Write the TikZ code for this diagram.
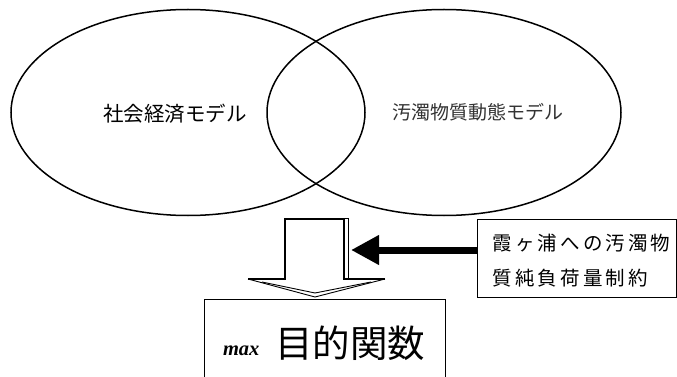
\documentclass[tikz,border=0pt]{standalone}
\usepackage{fontspec}
\setmainfont{Liberation Serif}
\newfontfamily\cjk{Noto Sans CJK JP}
\newfontfamily\cjksp[LetterSpace=16]{Noto Sans CJK JP}
\usetikzlibrary{shapes.geometric,arrows.meta}
\begin{document}
\begin{tikzpicture}[x=1pt,y=-1pt,
  venn/.style={draw, ellipse, line width=1.5pt, minimum width=354pt, minimum height=206pt, inner sep=0pt},
  boxed/.style={draw, rectangle, line width=1pt, inner sep=0pt},
  thickedge/.style={line width=2.4pt, line join=miter},
  thinedge/.style={line width=0.9pt, line join=miter}]
\fill[white] (0,0) rectangle (677,377);
\useasboundingbox (0,0) rectangle (677,377);
\clip (0,0) rectangle (677,377);
% ellipses
\node[venn] (socio) at (188,112.5) {};
\node[venn] (pollut) at (444,112.5) {};
\node[font=\cjk\fontsize{20.5}{24}\selectfont] (t1) at (175,114) {社会経済モデル};
\node[font=\cjk\fontsize{19}{23}\selectfont, text=black!80] (t2) at (478,112) {汚濁物質動態モデル};
% constraint box
\node[boxed, minimum width=199pt, minimum height=78pt] (cons) at (576.5,258) {};
\node[anchor=west, font=\cjksp\fontsize{19.5}{23}\selectfont] (c1) at (489,243) {霞ヶ浦への汚濁物};
\node[anchor=west, font=\cjksp\fontsize{19.5}{23}\selectfont] (c2) at (489,278) {質純負荷量制約};
% objective box
\node[boxed, line width=1.1pt, minimum width=241pt, minimum height=100pt, anchor=north west] (obj) at (204,299) {};
\node[anchor=base east, font=\bfseries\itshape\fontsize{20.5}{24}\selectfont] (mx) at (263,355) {max};
\node[anchor=west, font=\cjk\fontsize{37.5}{44}\selectfont, inner sep=0pt] (objtext) at (275,343) {目的関数};
% hollow arrow
\draw[thickedge] (285,280) -- (285,219) -- (344,219) -- (344,280);
\draw[thickedge] (248,279) -- (286,279);
\draw[thickedge] (343,279) -- (385,279);
\draw[thinedge] (248,279) -- (315,297) -- (385,279);
\draw[thinedge] (262,282) -- (315,293) -- (371,282);
\draw[thinedge] (344,218) -- (348.5,218) -- (348.5,278);
% black arrow
\coordinate (hollowR) at (351,250);
\draw[line width=7pt, -{Triangle[length=28pt,width=28pt]}] (cons.west |- hollowR) -- (hollowR);
\end{tikzpicture}
\end{document}
